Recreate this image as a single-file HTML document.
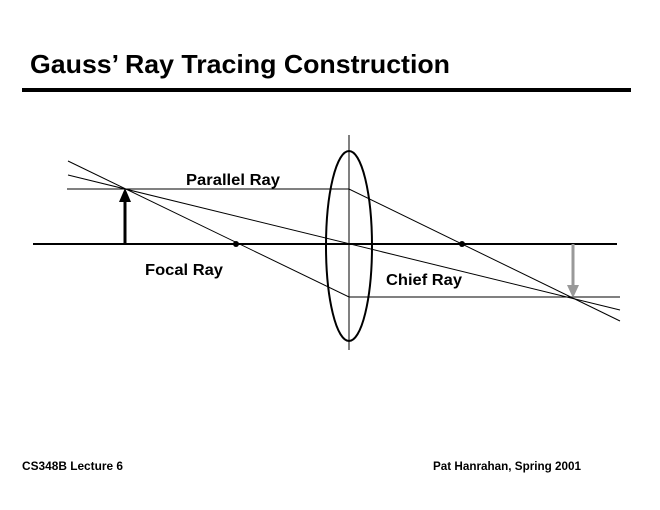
<!DOCTYPE html>
<html><head><style>
body{margin:0;background:#fff;width:660px;height:510px;overflow:hidden;font-family:"Liberation Sans",Arial,sans-serif}
</style></head><body>
<svg width="660" height="510" xmlns="http://www.w3.org/2000/svg" style="position:absolute;left:0;top:0">
<text x="30" y="73" font-size="26" font-weight="bold" font-family="Liberation Sans, Arial, sans-serif" textLength="420" lengthAdjust="spacingAndGlyphs">Gauss’ Ray Tracing Construction</text>
<rect x="22" y="88" width="609" height="4" fill="#000"/>
<g stroke="#000" fill="none" stroke-width="1">
<line x1="33" y1="244" x2="617" y2="244" stroke-width="2"/>
<line x1="349" y1="135" x2="349" y2="350"/>
<ellipse cx="349" cy="246" rx="23" ry="95" stroke-width="2"/>
<polyline points="67,189 349,189 620,321"/>
<polyline points="68,161 349,297 620,297"/>
<line x1="68" y1="175" x2="620" y2="310"/>
</g>
<line x1="125" y1="244" x2="125" y2="200" stroke="#000" stroke-width="3"/>
<polygon points="125,188 119,202 131,202" fill="#000"/>
<line x1="573" y1="244" x2="573" y2="288" stroke="#999" stroke-width="3"/>
<polygon points="573,298 567,285 579,285" fill="#999"/>
<circle cx="236" cy="244" r="3" fill="#000"/>
<circle cx="462" cy="244" r="3" fill="#000"/>
<g font-size="16" font-weight="bold" font-family="Liberation Sans, Arial, sans-serif">
<text x="186" y="185" textLength="94" lengthAdjust="spacingAndGlyphs">Parallel Ray</text>
<text x="145" y="275" textLength="78" lengthAdjust="spacingAndGlyphs">Focal Ray</text>
<text x="386" y="285" textLength="76" lengthAdjust="spacingAndGlyphs">Chief Ray</text>
</g>
<g font-size="12" font-weight="bold" font-family="Liberation Sans, Arial, sans-serif">
<text x="22" y="470" textLength="101" lengthAdjust="spacingAndGlyphs">CS348B Lecture 6</text>
<text x="433" y="470" textLength="148" lengthAdjust="spacingAndGlyphs">Pat Hanrahan, Spring 2001</text>
</g>
</svg>
</body></html>
